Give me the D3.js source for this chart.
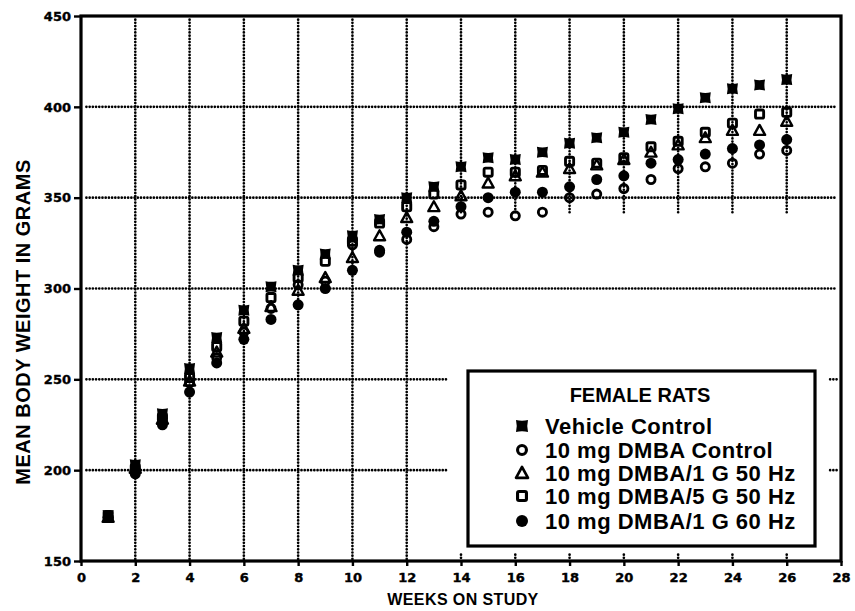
<!DOCTYPE html>
<html>
<head>
<meta charset="utf-8">
<script src="https://cdn.jsdelivr.net/npm/d3@7"></script>
<style>
  html, body { margin: 0; padding: 0; background: #fff; }
  svg { display: block; }
</style>
</head>
<body>
<svg id="chart" width="855" height="611"></svg>
<script>
// ---------------- DATA ----------------
const weeks = [1,2,3,4,5,6,7,8,9,10,11,12,13,14,15,16,17,18,19,20,21,22,23,24,25,26];
const vehicleControl = [175,203,231,256,273,288,301,310,319,329,338,350,356,367,372,371,375,380,383,386,393,399,405,410,412,415];
const dmbaControl    = [174,200,226,248,262,276,289,302,304,324,320,327,334,341,342,340,342,350,352,355,360,366,367,369,374,376];
const dmba1G50       = [174,201,228,249,265,278,290,299,306,317,329,339,345,351,358,362,364,366,368,371,375,379,383,387,387,392];
const dmba5G50       = [175,201,229,251,268,282,295,306,315,326,336,345,352,357,364,364,365,370,369,372,378,381,386,391,396,397];
const dmba1G60       = [174,198,225,243,259,272,283,291,300,310,321,331,337,345,350,353,353,356,360,362,369,371,374,377,379,382];

const seriesNames = ["Vehicle Control","10 mg DMBA Control","10 mg DMBA/1 G 50 Hz","10 mg DMBA/5 G 50 Hz","10 mg DMBA/1 G 60 Hz"];
const seriesKeys  = ["vehicle","openCircle","triangle","openSquare","filledCircle"];
const seriesValues = [vehicleControl, dmbaControl, dmba1G50, dmba5G50, dmba1G60];

const xTicks = [0,2,4,6,8,10,12,14,16,18,20,22,24,26,28];
const yTicks = [150,200,250,300,350,400,450];
const legendTitle = "FEMALE RATS";
const xTitle = "WEEKS ON STUDY";
const yTitle = "MEAN BODY WEIGHT IN GRAMS";

// ---------------- LAYOUT ----------------
const svg = d3.select("#chart");
const plotL = 81, plotR = 841, plotT = 16, plotB = 561;
const x = d3.scaleLinear().domain([0, 28]).range([plotL, plotR]);
const y = d3.scaleLinear().domain([150, 450]).range([plotB, plotT]);

const dotted = g => g.attr("stroke", "#000").attr("stroke-width", 2.7)
  .attr("stroke-linecap", "round").attr("stroke-dasharray", "0.01 3.2").attr("fill", "none");

// gridlines
const grid = svg.append("g");
xTicks.filter(w => w > 0 && w < 28).forEach(w => {
  if (w <= 12) {
    grid.append("line").attr("x1", x(w)).attr("x2", x(w)).attr("y1", y(448)).attr("y2", y(151)).call(dotted);
  } else {
    grid.append("line").attr("x1", x(w)).attr("x2", x(w)).attr("y1", y(448)).attr("y2", y(341)).call(dotted);
    grid.append("line").attr("x1", x(w)).attr("x2", x(w)).attr("y1", y(153.5)).attr("y2", y(151)).call(dotted);
  }
});
yTicks.filter(v => v > 150 && v < 450).forEach(v => {
  if (v >= 300) {
    grid.append("line").attr("x1", x(0.2)).attr("x2", x(27.8)).attr("y1", y(v)).attr("y2", y(v)).call(dotted);
  } else {
    grid.append("line").attr("x1", x(0.2)).attr("x2", x(13.5)).attr("y1", y(v)).attr("y2", y(v)).call(dotted);
    grid.append("line").attr("x1", x(27.6)).attr("x2", x(27.85)).attr("y1", y(v)).attr("y2", y(v)).call(dotted);
  }
});

// axes
const fontTick = "'DejaVu Sans', sans-serif";
const yAxis = svg.append("g").attr("transform", `translate(${plotL},0)`)
  .call(d3.axisLeft(y).tickValues(yTicks).tickSize(7).tickPadding(3).tickFormat(d3.format("d")));
const xAxis = svg.append("g").attr("transform", `translate(0,${plotB})`)
  .call(d3.axisBottom(x).tickValues(xTicks).tickSize(5).tickPadding(7).tickFormat(d3.format("d")));
[yAxis, xAxis].forEach(a => {
  a.select(".domain").remove();
  a.selectAll("line").attr("stroke", "#000").attr("stroke-width", 2.4);
  a.selectAll("text").attr("font-family", fontTick).attr("font-weight", "bold")
    .attr("font-size", 13).attr("fill", "#000").attr("stroke", "#000").attr("stroke-width", 0.4);
});

// frame
svg.append("rect").attr("x", plotL).attr("y", plotT).attr("width", plotR - plotL).attr("height", plotB - plotT)
  .attr("fill", "none").attr("stroke", "#000").attr("stroke-width", 3.2);

// titles
const fontTitle = "'Liberation Sans', Arial, sans-serif";
svg.append("text").attr("x", 463).attr("y", 605).attr("text-anchor", "middle")
  .attr("font-family", fontTitle).attr("font-weight", "bold").attr("font-size", 16)
  .attr("letter-spacing", 0.4).text(xTitle);
svg.append("text").attr("transform", "translate(30,322) rotate(-90)").attr("text-anchor", "middle")
  .attr("font-family", fontTitle).attr("font-weight", "bold").attr("font-size", 20)
  .attr("letter-spacing", 0.5).text(yTitle);

// ---------------- MARKERS ----------------
function vehiclePath(s) {
  const h = s / 2, c = h * 0.75;
  return `M${-h},${-h} Q0,${-c} ${h},${-h} Q${c},0 ${h},${h} Q0,${c} ${-h},${h} Q${-c},0 ${-h},${-h} Z`;
}
function drawMarker(g, key, cx, cy, s) {
  const sw = s * 0.26;
  switch (key) {
    case "vehicle":
      g.append("path").attr("d", vehiclePath(s)).attr("transform", `translate(${cx},${cy})`).attr("fill", "#000");
      break;
    case "openCircle":
      g.append("circle").attr("cx", cx).attr("cy", cy).attr("r", s / 2 - sw / 2)
        .attr("fill", "none").attr("stroke", "#000").attr("stroke-width", sw);
      break;
    case "triangle": {
      const h = s / 2;
      g.append("path").attr("d", `M0,${-h} L${h},${h * 0.8} L${-h},${h * 0.8} Z`)
        .attr("transform", `translate(${cx},${cy})`)
        .attr("fill", "none").attr("stroke", "#000").attr("stroke-width", sw * 0.85).attr("stroke-linejoin", "round");
      break;
    }
    case "openSquare": {
      const h = s / 2 - sw / 2;
      g.append("rect").attr("x", cx - h).attr("y", cy - h).attr("width", 2 * h).attr("height", 2 * h)
        .attr("rx", 1.5).attr("fill", "none").attr("stroke", "#000").attr("stroke-width", sw);
      break;
    }
    case "filledCircle":
      g.append("circle").attr("cx", cx).attr("cy", cy).attr("r", s / 2).attr("fill", "#000");
      break;
  }
}

const marks = svg.append("g");
const drawOrder = [4, 1, 2, 3, 0];
drawOrder.forEach(i => {
  const g = marks.append("g").attr("class", "series-" + seriesKeys[i]);
  weeks.forEach((w, j) => drawMarker(g, seriesKeys[i], x(w), y(seriesValues[i][j]), 11));
});

// ---------------- LEGEND ----------------
const lg = svg.append("g");
lg.append("rect").attr("x", 468).attr("y", 371).attr("width", 347).attr("height", 175)
  .attr("fill", "#fff").attr("stroke", "#000").attr("stroke-width", 3.2);
lg.append("text").attr("x", 640).attr("y", 402).attr("text-anchor", "middle")
  .attr("font-family", fontTitle).attr("font-weight", "bold").attr("font-size", 20).text(legendTitle);
const rowBase = [434, 458, 481, 504, 529];
seriesNames.forEach((name, i) => {
  drawMarker(lg, seriesKeys[i], 522, rowBase[i] - 8, 12);
  lg.append("text").attr("x", 545).attr("y", rowBase[i])
    .attr("font-family", fontTitle).attr("font-weight", "bold").attr("font-size", 22)
    .attr("letter-spacing", 0.5).text(name);
});
</script>
</body>
</html>
